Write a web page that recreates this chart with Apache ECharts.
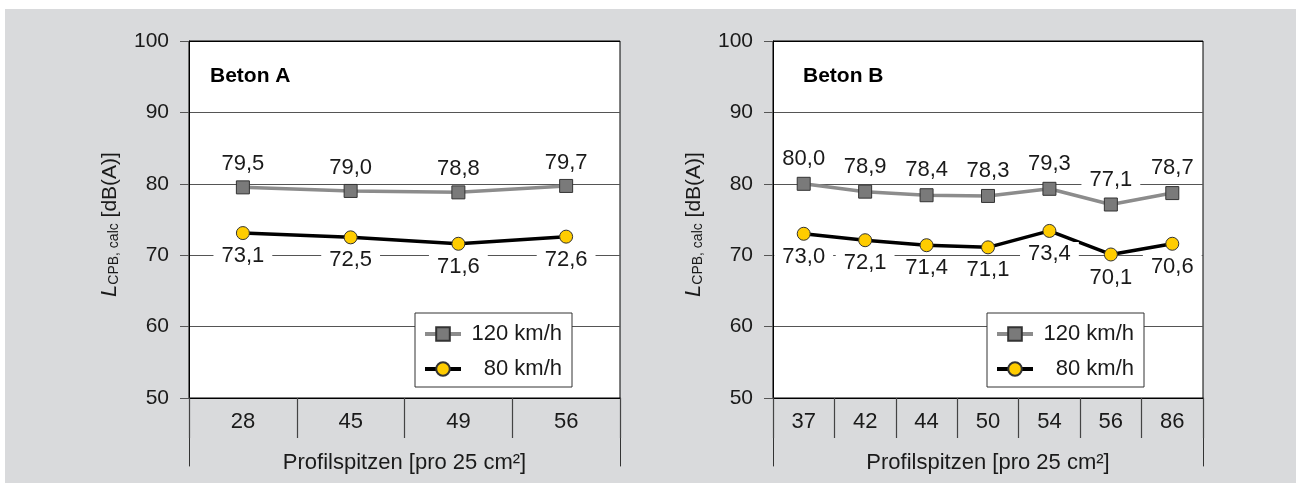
<!DOCTYPE html>
<html>
<head>
<meta charset="utf-8">
<script src="https://cdn.jsdelivr.net/npm/echarts@6/dist/echarts.min.js"></script>
<style>
  html, body { margin: 0; padding: 0; background: #ffffff; }
  #bg { position: absolute; left: 5px; top: 9px; width: 1291px; height: 474px; background: #d9dadc; }
  #chart { position: absolute; left: 0; top: 0; width: 1310px; height: 483px; }
</style>
</head>
<body>
<div id="bg"></div>
<div id="chart"></div>
<script>
// ---- data ----
const categoriesA = ['28', '45', '49', '56'];
const valuesA120 = [79.5, 79.0, 78.8, 79.7];
const valuesA80 = [73.1, 72.5, 71.6, 72.6];

const categoriesB = ['37', '42', '44', '50', '54', '56', '86'];
const valuesB120 = [80.0, 78.9, 78.4, 78.3, 79.3, 77.1, 78.7];
const valuesB80 = [73.0, 72.1, 71.4, 71.1, 73.4, 70.1, 71.6];
// data labels as printed in the original (last one differs from plotted point)
const labelsB80 = ['73,0', '72,1', '71,4', '71,1', '73,4', '70,1', '70,6'];

const seriesNames = ['120 km/h', '80 km/h'];
const panelTitles = ['Beton A', 'Beton B'];
const xAxisTitle = 'Profilspitzen [pro 25 cm²]';
const yMin = 50, yMax = 100, yInterval = 10;

// ---- styles ----
const FONT = '"Liberation Sans", Arial, Helvetica, sans-serif';
const TXT = '#1a1a1a';
const GREY_LINE = '#8c8c8c';
const GREY_FILL = '#7a7a7a';
const YELLOW = '#ffcc00';

const fmt = v => v.toFixed(1).replace('.', ',');

function plotX(gridIndex, cats) {
  return {
    type: 'category', gridIndex, data: cats, boundaryGap: true,
    axisLine: { show: true, lineStyle: { color: '#000', width: 1 } },
    axisTick: { show: true, interval: 0, length: 40, inside: false, lineStyle: { color: '#444', width: 1.2 } },
    axisLabel: { fontSize: 22, color: TXT, fontFamily: FONT, margin: 13, interval: 0 },
    splitLine: { show: false },
    name: xAxisTitle, nameLocation: 'middle', nameGap: 54,
    nameTextStyle: { fontSize: 22, color: TXT, fontFamily: FONT }
  };
}
function plotY(gridIndex, gap) {
  return {
    type: 'value', gridIndex, min: yMin, max: yMax, interval: yInterval,
    axisLine: { show: true, lineStyle: { color: '#000', width: 1 } },
    axisTick: { show: true, length: 9, inside: false, lineStyle: { color: '#555' } },
    axisLabel: { fontSize: 21, color: TXT, fontFamily: FONT, margin: 20 },
    splitLine: { show: true, lineStyle: { color: ['#000', '#555', '#555', '#555', '#555', '#000'], width: 1 } },
    name: '{L|L}{s|CPB, calc}{n| [dB(A)]}',
    nameLocation: 'middle', nameRotate: 90, nameGap: gap,
    nameTextStyle: {
      fontFamily: FONT, color: TXT, fontSize: 21, padding: [0, 10, 0, 0],
      rich: {
        L: { fontSize: 22, fontStyle: 'italic', fontFamily: FONT, color: TXT, verticalAlign: 'bottom' },
        s: { fontSize: 14, fontFamily: FONT, color: TXT, verticalAlign: 'bottom' },
        n: { fontSize: 21, fontFamily: FONT, color: TXT, verticalAlign: 'bottom' }
      }
    }
  };
}
function extX(gridIndex) {
  return { type: 'value', gridIndex, show: false };
}
function extY(gridIndex, pos) {
  return {
    type: 'value', gridIndex, position: pos,
    axisLine: { show: true, onZero: false, lineStyle: { color: '#333', width: 1 } },
    axisTick: { show: false }, axisLabel: { show: false }, splitLine: { show: false }
  };
}
function legend(left) {
  return {
    left, top: 313, orient: 'vertical',
    data: seriesNames,
    backgroundColor: '#fff', borderColor: '#333', borderWidth: 1, borderRadius: 0,
    padding: [10, 10, 7, 8], itemGap: 13, itemWidth: 36, itemHeight: 17,
    lineStyle: { width: 4 },
    formatter: '{a|{name}}',
    textStyle: { fontSize: 22, color: TXT, fontFamily: FONT,
      rich: { a: { width: 96, align: 'right', fontSize: 22, fontFamily: FONT, color: TXT } } },
    selectedMode: false
  };
}
function s120(xi, yi, data, dist) {
  return {
    name: seriesNames[0], type: 'line', xAxisIndex: xi, yAxisIndex: yi, data,
    symbol: 'rect', symbolSize: 13,
    lineStyle: { color: GREY_LINE, width: 3.5 },
    itemStyle: { color: GREY_FILL, borderColor: '#333', borderWidth: 1 },
    label: { show: true, position: 'top', distance: dist, fontSize: 22, color: TXT, fontFamily: FONT,
      backgroundColor: '#fff', padding: [1, 8], formatter: p => fmt(p.value) },
    emphasis: { disabled: true }, animation: false, z: 3
  };
}
function s80(xi, yi, data, dist, labels) {
  return {
    name: seriesNames[1], type: 'line', xAxisIndex: xi, yAxisIndex: yi, data,
    symbol: 'circle', symbolSize: 13,
    lineStyle: { color: '#000', width: 3.5 },
    itemStyle: { color: YELLOW, borderColor: '#333', borderWidth: 1 },
    label: { show: true, position: 'bottom', distance: dist, fontSize: 22, color: TXT, fontFamily: FONT,
      backgroundColor: '#fff', padding: [1, 8],
      formatter: p => labels ? labels[p.dataIndex] : fmt(p.value) },
    emphasis: { disabled: true }, animation: false, z: 4
  };
}

const option = {
  animation: false,
  textStyle: { fontFamily: FONT },
  title: [
    { text: panelTitles[0], left: 205, top: 61, textStyle: { fontSize: 21, fontWeight: 'bold', color: '#000', fontFamily: FONT } },
    { text: panelTitles[1], left: 798, top: 61, textStyle: { fontSize: 21, fontWeight: 'bold', color: '#000', fontFamily: FONT } }
  ],
  legend: [legend(415), legend(987)],
  grid: [
    { left: 189, right: 690, top: 41, bottom: 85, show: true, backgroundColor: '#fff', borderColor: '#000', borderWidth: 1 },
    { left: 773, right: 107, top: 41, bottom: 85, show: true, backgroundColor: '#fff', borderColor: '#000', borderWidth: 1 },
    { left: 189, right: 690, top: 398, bottom: 17 },
    { left: 773, right: 107, top: 398, bottom: 17 }
  ],
  xAxis: [plotX(0, categoriesA), plotX(1, categoriesB), extX(2), extX(3)],
  yAxis: [plotY(0, 68), plotY(1, 68), extY(2, 'left'), extY(2, 'right'), extY(3, 'left'), extY(3, 'right')],
  series: [
    s120(0, 0, valuesA120, 4),
    s80(0, 0, valuesA80, 4, null),
    s120(1, 1, valuesB120, 6),
    s80(1, 1, valuesB80, 4, labelsB80)
  ]
};

const chart = echarts.init(document.getElementById('chart'), null, { renderer: 'canvas' });
chart.setOption(option);
</script>
</body>
</html>
